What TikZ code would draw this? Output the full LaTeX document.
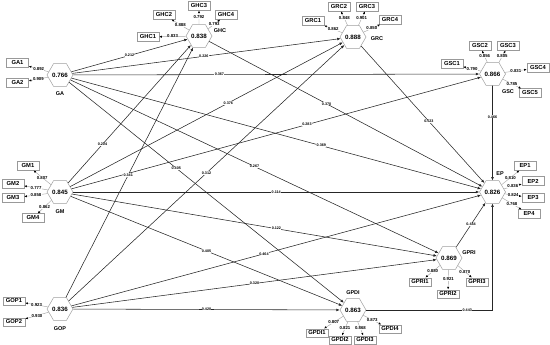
\documentclass[tikz,border=0pt]{standalone}
\usepackage{fontspec}
\setmainfont{Liberation Sans}
\usetikzlibrary{shapes.geometric,arrows.meta}
\begin{document}
\begin{tikzpicture}[x=1pt,y=-1pt,
  lv/.style={regular polygon, regular polygon sides=6, draw=gray!75, fill=white, line width=0.5pt,
    minimum size=26pt, inner sep=0pt, font=\bfseries\fontsize{6.2}{6.2}\selectfont},
  mv/.style={rectangle, draw=gray!80, fill=white, line width=0.5pt, inner xsep=1.5pt, inner ysep=0pt,
    minimum width=22pt, minimum height=8.5pt, font=\bfseries\fontsize{5.8}{5.8}\selectfont},
  cname/.style={font=\bfseries\fontsize{5.5}{5.5}\selectfont, inner sep=0pt},
  pth/.style={draw=black!85, line width=0.55pt, -{Latex[length=3.4pt,width=2.8pt]}},
  ld/.style={draw=gray!70, line width=0.45pt, -{Latex[length=2.6pt,width=2.2pt,color=black]}},
  coef/.style={fill=white, inner sep=0.3pt, font=\bfseries\fontsize{3.7}{3.7}\selectfont},
  ldl/.style={fill=white, inner sep=0.3pt, font=\bfseries\fontsize{4.3}{4.3}\selectfont},
]
\useasboundingbox (0,0) rectangle (550,345);

% latent variables
\node[lv] (GA) at (60,75) {0.766};
\node[lv] (GHC) at (199,36) {0.838};
\node[lv] (GRC) at (353,37) {0.888};
\node[lv] (GSC) at (492.5,74) {0.866};
\node[lv] (EP) at (492.5,192) {0.826};
\node[lv] (GM) at (60,192) {0.845};
\node[lv] (GOP) at (60,309) {0.836};
\node[lv] (GPRI) at (449,258) {0.869};
\node[lv] (GPDI) at (353,310) {0.863};

% construct names
\node[cname] at (60,94) {GA};
\node[cname] at (220,31) {GHC};
\node[cname] at (377,39) {GRC};
\node[cname] at (508,92) {GSC};
\node[cname] at (500,174) {EP};
\node[cname] at (60,212) {GM};
\node[cname] at (60,329) {GOP};
\node[cname] at (353,293) {GPDI};
\node[cname] at (469,253) {GPRI};

% indicators
\node[mv] (GA1) at (17.5,63) {GA1};
\node[mv] (GA2) at (17.5,83) {GA2};
\node[mv] (GHC1) at (148,37) {GHC1};
\node[mv] (GHC2) at (164,15) {GHC2};
\node[mv] (GHC3) at (199,6) {GHC3};
\node[mv] (GHC4) at (226,15) {GHC4};
\node[mv] (GRC1) at (313,21) {GRC1};
\node[mv] (GRC2) at (339,7) {GRC2};
\node[mv] (GRC3) at (367,7) {GRC3};
\node[mv] (GRC4) at (390,20) {GRC4};
\node[mv] (GSC1) at (452,64) {GSC1};
\node[mv] (GSC2) at (480,46) {GSC2};
\node[mv] (GSC3) at (508,46) {GSC3};
\node[mv] (GSC4) at (538,68) {GSC4};
\node[mv] (GSC5) at (530,93) {GSC5};
\node[mv] (EP1) at (525,166) {EP1};
\node[mv] (EP2) at (533,181) {EP2};
\node[mv] (EP3) at (533,198) {EP3};
\node[mv] (EP4) at (529,214) {EP4};
\node[mv] (GM1) at (28,166) {GM1};
\node[mv] (GM2) at (13,184) {GM2};
\node[mv] (GM3) at (13,198) {GM3};
\node[mv] (GM4) at (33,218) {GM4};
\node[mv] (GOP1) at (14,301) {GOP1};
\node[mv] (GOP2) at (14,322) {GOP2};
\node[mv] (GPDI1) at (317,333) {GPDI1};
\node[mv] (GPDI2) at (340,340) {GPDI2};
\node[mv] (GPDI3) at (365,340) {GPDI3};
\node[mv] (GPDI4) at (390,329) {GPDI4};
\node[mv] (GPRI1) at (420,282) {GPRI1};
\node[mv] (GPRI2) at (448,294) {GPRI2};
\node[mv] (GPRI3) at (477,282) {GPRI3};

% loadings
\draw[ld] (GA) -- (GA1) node[ldl,midway]{0.892};
\draw[ld] (GA) -- (GA2) node[ldl,midway]{0.909};
\draw[ld] (GHC) -- (GHC1) node[ldl,midway]{0.833};
\draw[ld] (GHC) -- (GHC2) node[ldl,midway]{0.888};
\draw[ld] (GHC) -- (GHC3) node[ldl,midway]{0.792};
\draw[ld] (GHC) -- (GHC4) node[ldl,midway]{0.793};
\draw[ld] (GRC) -- (GRC1) node[ldl,midway]{0.862};
\draw[ld] (GRC) -- (GRC2) node[ldl,midway]{0.848};
\draw[ld] (GRC) -- (GRC3) node[ldl,midway]{0.901};
\draw[ld] (GRC) -- (GRC4) node[ldl,midway]{0.850};
\draw[ld] (GSC) -- (GSC1) node[ldl,midway]{0.790};
\draw[ld] (GSC) -- (GSC2) node[ldl,midway]{0.856};
\draw[ld] (GSC) -- (GSC3) node[ldl,midway]{0.805};
\draw[ld] (GSC) -- (GSC4) node[ldl,midway]{0.831};
\draw[ld] (GSC) -- (GSC5) node[ldl,midway]{0.785};
\draw[ld] (EP) -- (EP1) node[ldl,midway]{0.810};
\draw[ld] (EP) -- (EP2) node[ldl,midway]{0.836};
\draw[ld] (EP) -- (EP3) node[ldl,midway]{0.824};
\draw[ld] (EP) -- (EP4) node[ldl,midway]{0.768};
\draw[ld] (GM) -- (GM1) node[ldl,midway]{0.807};
\draw[ld] (GM) -- (GM2) node[ldl,midway]{0.777};
\draw[ld] (GM) -- (GM3) node[ldl,midway]{0.858};
\draw[ld] (GM) -- (GM4) node[ldl,midway]{0.862};
\draw[ld] (GOP) -- (GOP1) node[ldl,midway]{0.923};
\draw[ld] (GOP) -- (GOP2) node[ldl,midway]{0.930};
\draw[ld] (GPDI) -- (GPDI1) node[ldl,midway]{0.807};
\draw[ld] (GPDI) -- (GPDI2) node[ldl,midway]{0.821};
\draw[ld] (GPDI) -- (GPDI3) node[ldl,midway]{0.868};
\draw[ld] (GPDI) -- (GPDI4) node[ldl,midway]{0.873};
\draw[ld] (GPRI) -- (GPRI1) node[ldl,midway]{0.880};
\draw[ld] (GPRI) -- (GPRI2) node[ldl,midway]{0.921};
\draw[ld] (GPRI) -- (GPRI3) node[ldl,midway]{0.870};

% structural paths
\draw[pth] (GA) -- (GHC) node[coef,pos=0.50]{0.212};
\draw[pth] (GA) -- (GRC) node[coef,pos=0.49]{0.226};
\draw[pth] (GA) -- (GSC) node[coef,pos=0.36]{0.367};
\draw[pth] (GA) -- (EP) node[coef,pos=0.61]{0.369};
\draw[pth] (GA) -- (GPRI) node[coef,pos=0.50]{0.267};
\draw[pth] (GA) -- (GPDI) node[coef,pos=0.39]{0.405};
\draw[pth] (GM) -- (GHC) node[coef,pos=0.28]{0.204};
\draw[pth] (GM) -- (GRC) node[coef,pos=0.58]{0.376};
\draw[pth] (GM) -- (GSC) node[coef,pos=0.575]{0.283};
\draw[pth] (GM) -- (EP) node[coef,pos=0.50]{0.114};
\draw[pth] (GM) -- (GPRI) node[coef,pos=0.56]{0.122};
\draw[pth] (GM) -- (GPDI) node[coef,pos=0.50]{0.405};
\draw[pth] (GOP) -- (GHC) node[coef,pos=0.49]{0.341};
\draw[pth] (GOP) -- (GRC) node[coef,pos=0.50]{0.312};
\draw[pth] (GOP) -- (EP) node[coef,pos=0.47]{0.464};
\draw[pth] (GOP) -- (GPRI) node[coef,pos=0.50]{0.320};
\draw[pth] (GOP) -- (GPDI) node[coef,pos=0.50]{0.420};
\draw[pth] (GHC) -- (EP) node[coef,pos=0.43]{0.370};
\draw[pth] (GRC) -- (EP) node[coef,pos=0.55]{0.523};
\draw[pth] (GSC) -- (EP) node[coef,pos=0.33]{0.466};
\draw[pth] (GPRI) -- (EP) node[coef,pos=0.51]{0.444};
\draw[pth] (GPDI) -| (EP) node[coef,pos=0.4]{0.443};
\end{tikzpicture}
\end{document}
